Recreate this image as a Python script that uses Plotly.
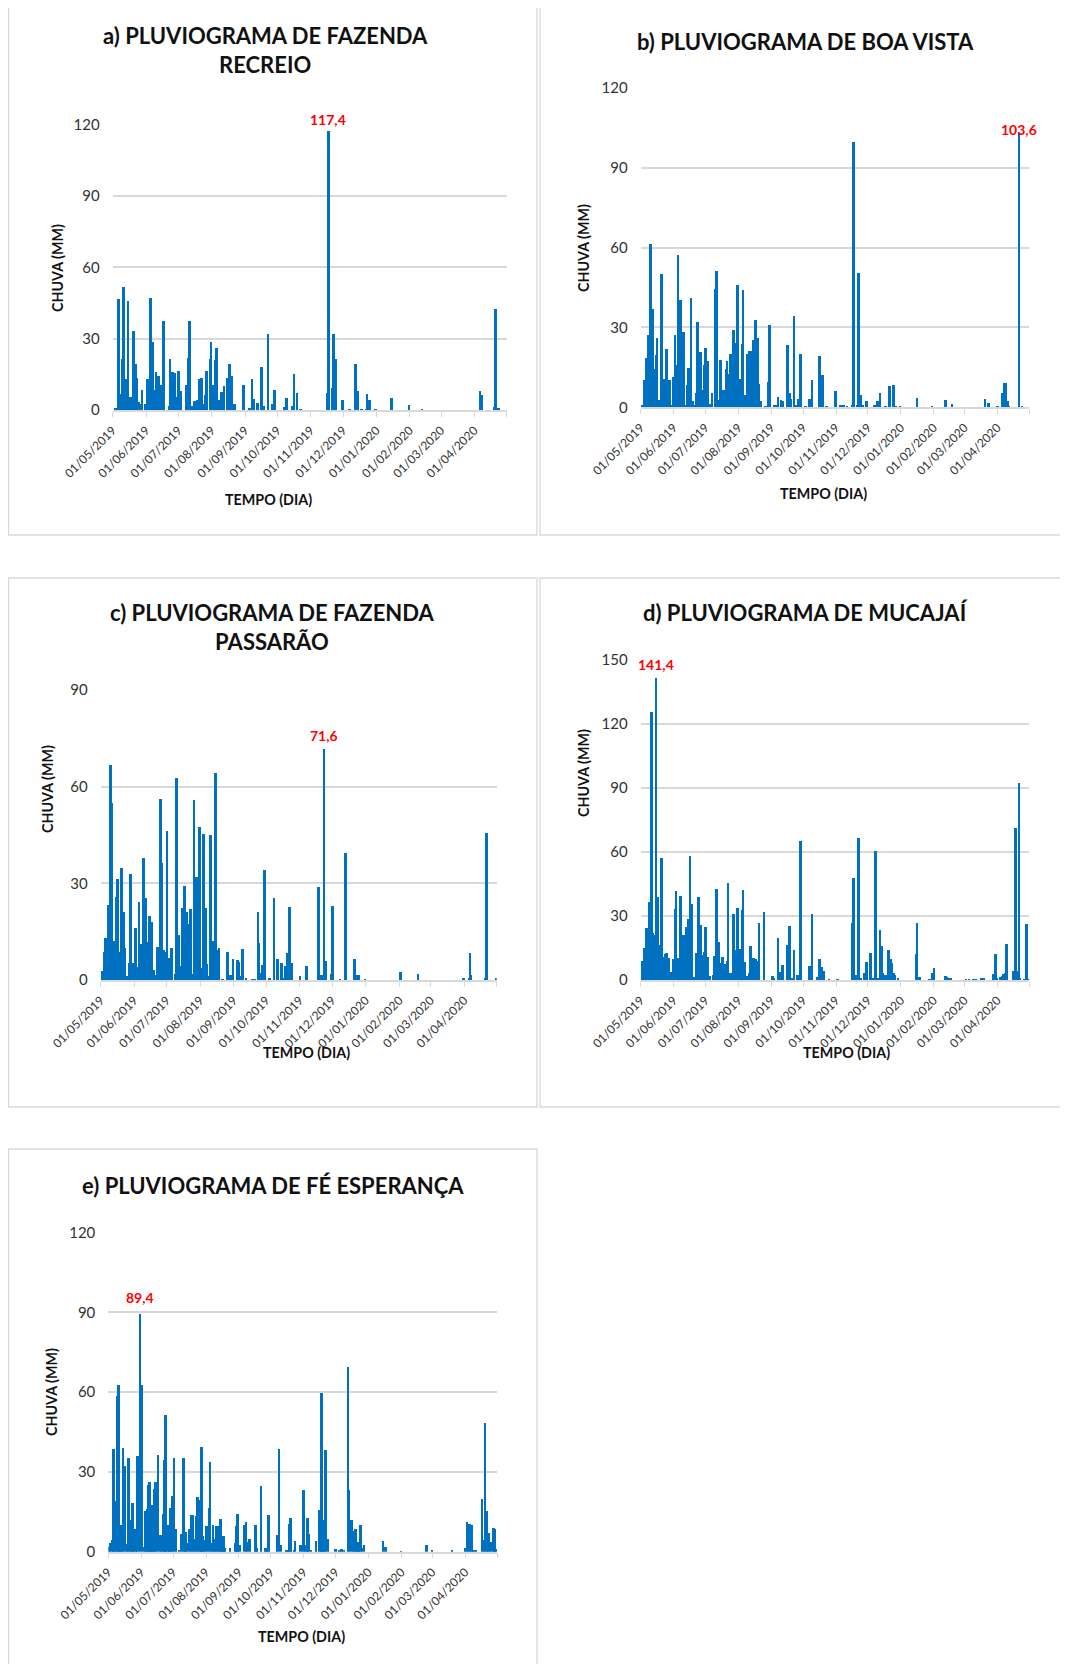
import pandas as pd
import plotly.graph_objects as go

# ---------------- data (day offset from 01/05/2019, rainfall mm) ----------------
START = "2019-05-01"
END = "2020-05-01"

tick_dates = ["01/05/2019", "01/06/2019", "01/07/2019", "01/08/2019", "01/09/2019",
              "01/10/2019", "01/11/2019", "01/12/2019", "01/01/2020", "01/02/2020",
              "01/03/2020", "01/04/2020", "01/05/2020"]
tick_text = tick_dates[:-1] + [""]

a_days = [2, 5, 7, 9, 10, 12, 14, 16, 17, 19, 21, 22, 24, 26, 27, 30, 32, 34, 35, 37, 39, 40, 42, 45, 46, 47,
          52, 53, 55, 57, 59, 61, 63, 68, 70, 71, 73, 76, 78, 80, 82, 84, 86, 87, 90, 91, 93, 95, 96, 98, 100,
          101, 103, 106, 108, 110, 113, 121, 127, 129, 131, 134, 138, 140, 144, 148, 150, 159, 161, 167, 168,
          171, 174, 199, 200, 204, 205, 207, 213, 220, 225, 227, 231, 235, 236, 238, 244, 259, 275, 287, 341,
          342, 354, 355, 358]
a_mm = [1, 46.7, 7, 21.5, 51.9, 13, 46, 5.6, 2, 33.4, 19.6, 13.6, 3.5, 2.8, 8.4, 2.8, 13, 3.5, 47.3, 28.8, 8.4,
        16, 14.3, 10.8, 9, 37.6, 1.7, 21.7, 16, 15.7, 5.6, 16.4, 8, 10.5, 22, 37.4, 2, 3.8, 4.2, 13.3, 13.7, 2.8,
        6.3, 16.5, 21.5, 28.8, 10.5, 21.3, 26.4, 4.2, 4.2, 7.7, 10.2, 13.6, 19.6, 14.4, 2.5, 10.8, 1.1, 13.3, 4.9,
        3, 18.2, 2, 32, 2.5, 8.4, 1.4, 5.3, 2, 15.4, 7.3, 0.4, 7.3, 117.4, 9.5, 32, 21.5, 4.5, 0.4, 19.6, 8.1,
        0.4, 0.4, 7, 4.5, 0.4, 5.3, 2.4, 0.7, 8, 6.5, 1.4, 42.4, 1.1]

b_days = [1, 3, 5, 7, 8, 9, 11, 12, 13, 14, 15, 17, 19, 21, 23, 24, 26, 27, 29, 30, 32, 34, 35, 37, 39, 40, 42,
          44, 45, 47, 49, 50, 52, 53, 55, 56, 58, 60, 61, 63, 65, 67, 70, 71, 73, 75, 77, 78, 80, 81, 83, 84, 85,
          87, 89, 91, 93, 95, 96, 98, 100, 102, 104, 106, 107, 108, 110, 111, 113, 117, 120, 121, 126, 127, 129,
          132, 133, 138, 140, 141, 144, 146, 148, 150, 155, 159, 161, 168, 169, 171, 175, 183, 188, 191, 194,
          199, 200, 204, 205, 207, 209, 212, 213, 220, 223, 225, 230, 234, 238, 240, 244, 260, 274, 287, 293,
          324, 327, 336, 340, 342, 343, 345, 346, 356, 359]
b_mm = [0.9, 10.5, 18.6, 27.2, 27, 61.6, 37.2, 12.8, 14.4, 19.9, 26.2, 2.8, 50.2, 10.6, 10.3, 21.9, 2.8, 10.5,
        0.9, 11.5, 27.2, 15.9, 57.2, 40.3, 15.9, 28.4, 0.9, 8.4, 15, 41.3, 2.4, 0.9, 5.3, 32.2, 12.1, 20.9, 6.5,
        16.1, 22.5, 17.5, 1.5, 5.5, 44.7, 51.3, 2.8, 17.8, 2.8, 6.5, 14.6, 17.5, 12.8, 20.2, 7.1, 29.3, 24.3,
        45.9, 10.6, 24, 44.1, 4.6, 20.3, 21.2, 21.2, 25.3, 25.3, 32.8, 26.3, 9, 2.4, 0.3, 9.6, 31.2, 1.1, 0.9,
        3.8, 3, 2.4, 23.4, 5.3, 3.1, 34.4, 0.9, 3.4, 20.2, 0.5, 3.4, 10.5, 19.4, 2.8, 12.1, 0.3, 6.1, 1.1, 1.1,
        0.3, 1.1, 99.7, 0.9, 50.7, 4.6, 0.9, 2.4, 2.4, 1.1, 2.4, 5.5, 0.5, 8, 8.4, 0.3, 0.3, 3.6, 0.3, 3, 1.3,
        3.1, 1.9, 0.5, 5.5, 9.3, 9.3, 2.4, 0.3, 103.6, 0.5]

c_days = [1, 3, 4, 5, 7, 8, 9, 10, 12, 13, 14, 15, 17, 19, 21, 22, 24, 26, 27, 29, 30, 32, 33, 35, 37, 38, 39,
          41, 43, 44, 45, 47, 49, 50, 52, 53, 55, 56, 58, 60, 61, 63, 65, 69, 70, 72, 73, 75, 77, 79, 80, 82, 83,
          85, 86, 88, 89, 91, 92, 95, 97, 98, 100, 101, 103, 105, 106, 108, 109, 112, 117, 120, 122, 126, 127,
          129, 131, 134, 140, 142, 145, 146, 148, 149, 151, 156, 160, 163, 167, 168, 170, 172, 174, 176, 184,
          190, 201, 202, 204, 206, 208, 213, 214, 221, 226, 234, 235, 238, 244, 277, 293, 335, 340, 341, 342,
          355, 356, 365]
c_mm = [2.8, 8.8, 12.9, 11.9, 23.3, 23.3, 66.7, 54.8, 12.1, 1.6, 25.7, 31.3, 8.8, 34.7, 21, 9.8, 1.2, 5.2, 32.9,
        5.4, 1.2, 16, 4.1, 24.1, 11.2, 9.8, 38, 25.6, 7.8, 11.7, 19.9, 18.1, 3.1, 1.6, 10.3, 8.8, 56.1, 36.4,
        9.3, 8.8, 46.3, 6.7, 10, 1.8, 62.6, 14, 4.3, 22.2, 29.2, 21.2, 17.3, 10.6, 22, 1.8, 55.9, 31.9, 11.9,
        47.4, 3.8, 45.2, 22.4, 4.9, 1.2, 45, 12.1, 12.1, 64.1, 9.3, 9.8, 0.3, 8.8, 1.6, 6.4, 6.2, 5.7, 1.2, 9.5,
        0.5, 0.3, 0.3, 21.2, 11.4, 2.3, 4.7, 34.1, 0.7, 25.3, 6.4, 5.2, 0.5, 4.3, 8.5, 22.8, 5.2, 1.2, 4.3, 29,
        1.6, 1.6, 71.6, 6, 1.8, 23.1, 0.3, 39.3, 6.5, 1.6, 1.6, 0.3, 2.4, 1.9, 0.5, 0.5, 8.3, 1.6, 0.5, 45.5, 0.7]

d_days = [1, 3, 5, 6, 8, 9, 10, 11, 13, 14, 16, 18, 19, 20, 22, 23, 24, 26, 28, 30, 32, 33, 35, 37, 39, 40, 42,
          43, 45, 46, 48, 50, 52, 54, 56, 57, 59, 60, 61, 63, 65, 68, 69, 71, 73, 74, 76, 77, 79, 81, 82, 84, 85,
          87, 89, 91, 92, 94, 95, 96, 98, 100, 102, 103, 105, 106, 108, 110, 111, 116, 124, 125, 129, 131, 133,
          138, 140, 142, 144, 147, 148, 150, 159, 161, 166, 168, 170, 172, 177, 185, 199, 200, 202, 205, 207,
          210, 212, 213, 216, 219, 221, 223, 225, 227, 228, 230, 233, 235, 236, 238, 239, 242, 259, 260, 262,
          272, 274, 276, 287, 288, 290, 292, 306, 309, 313, 315, 321, 323, 332, 334, 335, 338, 340, 341, 343,
          344, 351, 353, 354, 356, 357, 361, 363, 365]
d_mm = [9, 15.2, 24.2, 24, 36.7, 36.7, 125.8, 21.9, 21, 141.4, 39, 16.4, 57.3, 5.5, 10.9, 12, 12.5, 10.2, 3.9,
        9.7, 33.1, 41.7, 10.2, 39.5, 21, 21, 2.3, 25, 28.4, 58.3, 35.5, 1.6, 12.5, 39, 25.8, 11.7, 10.2, 13.3,
        24.7, 10.9, 1.9, 2.3, 11.4, 42.5, 17.7, 7.8, 7.8, 10.9, 7.3, 9, 45.6, 3.1, 2.3, 30.8, 14, 33.9, 14.4,
        14.4, 32.8, 42.2, 8.6, 1.9, 3.1, 15.9, 4.7, 10.5, 9.7, 9, 26.6, 31.7, 1.9, 1.1, 19.5, 3.9, 7, 16.4,
        25.5, 0.8, 14, 2.3, 2.3, 65.3, 6.6, 30.8, 1.6, 9.7, 6.3, 4.4, 0.3, 0.3, 26.9, 47.7, 2.3, 66.4, 0.8,
        3.1, 8.6, 8.6, 12.5, 0.8, 60.6, 0.8, 23.4, 15.9, 3.1, 2.3, 14, 9.7, 7.8, 3.4, 2.3, 0.8, 12.2, 26.6,
        1.6, 0.3, 3.1, 5.8, 1.9, 1.2, 0.8, 0.5, 0.3, 0.3, 0.3, 0.3, 0.5, 0.5, 2.7, 12.2, 0.8, 1.6, 1.9, 2.7,
        3.4, 16.7, 4.4, 71.1, 4.4, 92.5, 0.8, 0.3, 26.3, 0.3]

e_days = [1, 2, 4, 5, 7, 9, 10, 12, 13, 14, 16, 18, 19, 21, 23, 24, 26, 28, 30, 32, 34, 35, 37, 38, 39, 41, 42,
          44, 45, 47, 49, 50, 52, 53, 54, 56, 58, 59, 61, 62, 64, 67, 69, 71, 73, 74, 77, 78, 80, 81, 83, 84, 86,
          88, 89, 91, 93, 95, 96, 98, 99, 100, 102, 104, 106, 107, 109, 110, 115, 120, 121, 122, 124, 128, 130,
          131, 133, 139, 140, 144, 148, 149, 151, 159, 161, 163, 168, 169, 171, 172, 175, 176, 181, 184, 186,
          188, 189, 191, 196, 199, 201, 202, 203, 205, 207, 214, 218, 220, 222, 226, 227, 229, 231, 233, 235,
          236, 238, 239, 241, 259, 261, 276, 300, 305, 324, 336, 338, 339, 341, 342, 344, 346, 352, 354, 355,
          357, 358, 360, 363, 364, 365]
e_mm = [1.9, 3.4, 4.6, 38.8, 19, 58.6, 62.9, 10.3, 2.5, 39.2, 32.2, 2.9, 35.5, 11.9, 18.4, 2.1, 8.8, 36, 89.4,
        62.9, 1.9, 15.3, 16.3, 25.1, 26.3, 6.3, 17.8, 23.8, 26.3, 36.6, 6.3, 6.3, 14.4, 34.5, 51.6, 10.3, 10,
        16.5, 20.9, 35.5, 8.8, 0.9, 6.9, 35.3, 7.5, 3.5, 8.8, 13.8, 14, 5, 13.4, 20.7, 19.7, 39.5, 5.9, 4.4,
        9.8, 16.7, 33.8, 3.4, 10, 5, 9.6, 9.6, 12.3, 3.4, 5.9, 1.5, 1.5, 3.4, 9.8, 14.2, 2.5, 10, 11.3, 3.8, 5,
        10, 1.5, 24.7, 1.5, 1.2, 14, 6.3, 38.8, 2.5, 0.6, 0.9, 10.6, 12.9, 0.9, 4, 2.8, 23.4, 2.8, 12.8, 6.9,
        0.9, 4, 15.7, 59.9, 11.9, 9.6, 38.5, 5, 1.3, 0.6, 1.3, 0.6, 69.5, 23.2, 11.9, 7.8, 8.8, 3.8, 3.4, 10.3,
        1.5, 2.5, 4, 1.9, 0.3, 2.5, 0.9, 0.9, 1.5, 11.3, 10.4, 10.4, 10, 0.4, 0.4, 20, 4.4, 48.6, 15.4, 7.3,
        3.8, 9, 8.8, 1.3]

titles = ["a) PLUVIOGRAMA DE FAZENDA<br>RECREIO",
          "b) PLUVIOGRAMA DE BOA VISTA",
          "c) PLUVIOGRAMA DE FAZENDA<br>PASSARÃO",
          "d) PLUVIOGRAMA DE MUCAJAÍ",
          "e) PLUVIOGRAMA DE FÉ ESPERANÇA"]
y_max = [120, 120, 90, 150, 120]
y_title = "CHUVA (MM)"
x_title = "TEMPO (DIA)"

# ---------------- layout geometry (page pixels) ----------------
PAGE_OFF = 8                 # default body margin of the html page
W, H = 1060, 1656            # figure size so that figure + body margin fits the window
FONT = "Lato"
BLUE = "#0070C0"
GRID = "#d9d9d9"

layout_px = [
    dict(box=(8.5, 5, 537, 535), plot=(112.7, 124.7, 506.7, 410), title=(265, 50.5),
         ylab=(57, 268), xlab=(268.6, 499), lshift=1),
    dict(box=(540, 5, 1066, 535), plot=(640.7, 87.7, 1029.3, 407.3), title=(805, 41.6),
         ylab=(584, 248), xlab=(823, 493.5), lshift=-9),
    dict(box=(8.5, 578, 537, 1107), plot=(100.7, 690, 496.7, 980), title=(272, 627),
         ylab=(47, 789), xlab=(306, 1052), lshift=3),
    dict(box=(540, 578, 1066, 1107), plot=(640.7, 660, 1029.3, 980), title=(805, 613),
         ylab=(584, 773), xlab=(846, 1052), lshift=3),
    dict(box=(8.5, 1149, 537, 1700), plot=(108.3, 1232.7, 497, 1551.7), title=(273, 1185),
         ylab=(51, 1392), xlab=(301.6, 1636), lshift=6),
]

series = [(a_days, a_mm), (b_days, b_mm), (c_days, c_mm), (d_days, d_mm), (e_days, e_mm)]


def px(x):
    return (x - PAGE_OFF) / W


def py(y):
    return 1 - (y - PAGE_OFF) / H


start = pd.Timestamp(START)
tickvals = [pd.to_datetime(t, format="%d/%m/%Y") for t in tick_dates]
DAY_MS = 86400000

fig = go.Figure()
shapes = []
annotations = []
layout_axes = {}

for i, ((days, mm), g) in enumerate(zip(series, layout_px)):
    n = i + 1
    xa = "x" if n == 1 else f"x{n}"
    ya = "y" if n == 1 else f"y{n}"
    dates = [start + pd.Timedelta(days=d) for d in days]
    fig.add_trace(go.Bar(x=dates, y=mm, xaxis=xa, yaxis=ya, marker_color=BLUE,
                         marker_line_width=0, width=2.5 * DAY_MS, showlegend=False))

    x0, y0, x1, y1 = g["plot"]
    layout_axes[f"xaxis{'' if n == 1 else n}"] = dict(
        domain=[px(x0), px(x1)], anchor=ya, type="date", automargin=False,
        range=[START, END], tickvals=tickvals, ticktext=tick_text, tickangle=-45,
        ticks="outside", ticklen=5, tickcolor=GRID, tickwidth=1,
        showline=True, linecolor=GRID, linewidth=1.5, showgrid=False, zeroline=False,
        tickfont=dict(family=FONT, size=12, color="#333333"), ticklabelstandoff=2,
    )
    layout_axes[f"yaxis{'' if n == 1 else n}"] = dict(
        domain=[py(y1), py(y0)], anchor=xa, range=[0, y_max[i]], dtick=30, automargin=False,
        showgrid=True, gridcolor=GRID, gridwidth=1.5, zeroline=False, showline=False,
        ticks="", tickfont=dict(family=FONT, size=15, color="#333333"), ticklabelstandoff=12,
    )

    bx0, by0, bx1, by1 = g["box"]
    shapes.append(dict(type="rect", xref="paper", yref="paper", x0=px(bx0), x1=px(bx1),
                       y0=py(by1), y1=py(by0), line=dict(color=GRID, width=1.3),
                       fillcolor="rgba(0,0,0,0)", layer="below"))

    tx, ty = g["title"]
    annotations.append(dict(text=titles[i], xref="paper", yref="paper", x=px(tx), y=py(ty),
                            xanchor="center", yanchor="middle", showarrow=False,
                            font=dict(family=FONT, size=22, color="#111111", weight="bold")))
    lx, ly = g["ylab"]
    annotations.append(dict(text=y_title, xref="paper", yref="paper", x=px(lx), y=py(ly),
                            xanchor="center", yanchor="middle", showarrow=False, textangle=-90,
                            font=dict(family=FONT, size=14.3, color="#111111", weight="bold")))
    xx, xy = g["xlab"]
    annotations.append(dict(text=x_title, xref="paper", yref="paper", x=px(xx), y=py(xy),
                            xanchor="center", yanchor="middle", showarrow=False,
                            font=dict(family=FONT, size=14.3, color="#111111", weight="bold")))

    k = max(range(len(mm)), key=lambda j: mm[j])
    annotations.append(dict(text=f"{mm[k]:.1f}".replace(".", ","), xref=xa, yref=ya,
                            x=dates[k], y=mm[k], xanchor="center", yanchor="bottom",
                            yshift=g["lshift"], showarrow=False,
                            font=dict(family=FONT, size=14, color="#ff0000", weight="bold")))

fig.update_layout(width=W, height=H, margin=dict(l=0, r=0, t=0, b=0, autoexpand=False),
                  paper_bgcolor="white", plot_bgcolor="white", bargap=0,
                  shapes=shapes, annotations=annotations, **layout_axes)

fig.write_html("out.html")
